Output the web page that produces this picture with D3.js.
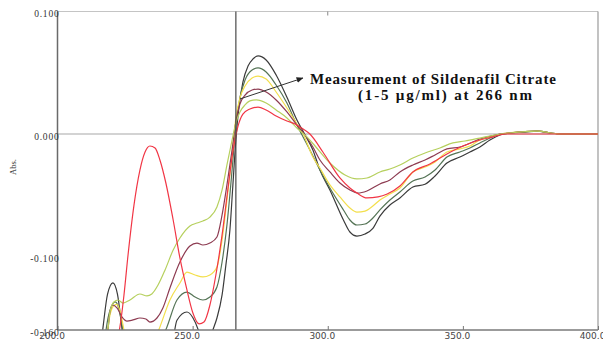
<!DOCTYPE html>
<html>
<head>
<meta charset="utf-8">
<script src="https://cdn.jsdelivr.net/npm/d3@7"></script>
<style>
  body { margin: 0; background: #fff; }
  svg { display: block; }
</style>
</head>
<body>
<div id="chart"></div>
<script>
// [wavelength nm, absorbance], one array per trace
const blackTrace = [
    [215.5, -0.185], [217, -0.155], [218.5, -0.131], [220.5, -0.1216], [222.2, -0.131], [223.8, -0.158],
    [225.2, -0.185], [233, -0.23], [242, -0.18], [244.2, -0.152], [247.9, -0.1453], [250.1, -0.150],
    [252.4, -0.162], [254.5, -0.18], [257.5, -0.16], [259, -0.1502], [260.9, -0.1314], [262.3, -0.107],
    [263.8, -0.0784], [264.9, -0.0416], [266, -0.0049], [267.1, 0.0212], [268.6, 0.0424], [270.5, 0.0555],
    [272.3, 0.0612], [274.2, 0.0637], [277.2, 0.0604], [280.9, 0.0482], [284.9, 0.030], [288.6, 0.0114],
    [291.6, -0.0008], [294.5, -0.013], [297.1, -0.0294], [300.8, -0.0457], [305.8, -0.0702], [308.2, -0.080],
    [310.8, -0.0833], [313.8, -0.0816], [316.7, -0.077], [319.3, -0.067], [323, -0.058], [326.7, -0.0522],
    [331.5, -0.0433], [336, -0.041], [339.7, -0.0343], [344.1, -0.0237], [348.9, -0.0188], [352.6, -0.0147],
    [356.3, -0.0106], [360, -0.0049], [363.7, -0.0008], [367.4, 0.0008], [373, 0.0016], [377.4, 0.0024],
    [382.2, 0.0008], [388, 0], [400, 0]
];
const greenTrace = [
    [217.2, -0.172], [218.7, -0.1502], [220.2, -0.1396], [221.3, -0.1371], [222.4, -0.1404], [223.9, -0.156],
    [225, -0.172], [230.5, -0.217], [237.9, -0.172], [240.5, -0.1575], [244.2, -0.1355], [247.9, -0.129],
    [250.9, -0.1331], [253.8, -0.1355], [256.4, -0.1331], [259, -0.1249], [260.9, -0.1045], [262.7, -0.0743],
    [264.6, -0.0294], [266, 0.0073], [267.5, 0.0294], [269.4, 0.0441], [272, 0.0522], [274.2, 0.0539],
    [277.2, 0.0506], [280.9, 0.040], [284.9, 0.0253], [288.6, 0.0073], [290.5, -0.0008], [293.4, -0.013],
    [297.1, -0.0294], [300.8, -0.0441], [305.8, -0.062], [308.2, -0.0702], [310.8, -0.0743], [313.8, -0.0735],
    [316.7, -0.0686], [319.3, -0.062], [323, -0.0539], [326.7, -0.0473], [331.5, -0.0384], [336, -0.0351],
    [339.7, -0.0294], [344.1, -0.0188], [348.9, -0.0147], [352.6, -0.0114], [356.3, -0.0073], [360, -0.0033],
    [363.7, 0], [367.4, 0.0008], [377.4, 0.0024], [385.9, 0], [400, 0]
];
const yellowTrace = [
    [217.9, -0.172], [219.4, -0.148], [220.9, -0.140], [222, -0.139], [223.1, -0.144], [224.6, -0.160],
    [225.7, -0.172], [230.5, -0.217], [235.3, -0.172], [237.9, -0.1575], [241.6, -0.1355], [245.3, -0.1216],
    [247.9, -0.1127], [250.9, -0.1151], [253.8, -0.1167], [256.4, -0.1151], [259, -0.1086], [260.9, -0.0865],
    [262.7, -0.0539], [264.6, -0.0171], [266, 0.0131], [267.5, 0.0294], [269.4, 0.0392], [272, 0.0457],
    [274.2, 0.0473], [277.2, 0.0449], [280.9, 0.0343], [284.9, 0.0212], [288.6, 0.0082], [290.9, 0],
    [294.5, -0.0188], [297.1, -0.0278], [300.8, -0.0416], [304.5, -0.0514], [308.2, -0.0604], [310.8, -0.0637],
    [313.8, -0.0629], [316.7, -0.0588], [319.3, -0.0539], [323, -0.049], [326.7, -0.0441], [331.5, -0.031],
    [336, -0.027], [339.7, -0.0229], [344.1, -0.0147], [348.9, -0.0122], [352.6, -0.0098], [356.3, -0.0049],
    [360, -0.0024], [363.7, 0], [377.4, 0.0024], [385.9, 0], [400, 0]
];
const maroonTrace = [
    [218.3, -0.172], [219.4, -0.1453], [220.5, -0.1396], [222, -0.142], [223.9, -0.1494], [225.7, -0.1527],
    [227.9, -0.1518], [230.5, -0.1502], [232.7, -0.151], [234.2, -0.1535], [236.8, -0.1502], [239, -0.142],
    [241.6, -0.1257], [245.3, -0.1045], [249, -0.0914], [251.6, -0.089], [253.8, -0.0906], [256.4, -0.089],
    [259, -0.0841], [260.9, -0.0661], [262.7, -0.0416], [264.6, -0.013], [266, 0.0098], [267.5, 0.0245],
    [269.4, 0.0318], [272, 0.0359], [274.2, 0.0367], [277.2, 0.0343], [280.9, 0.0278], [284.9, 0.018],
    [288.6, 0.0073], [291.6, -0.0008], [294.5, -0.0106], [297.1, -0.0212], [300.8, -0.031], [304.5, -0.040],
    [308.2, -0.0457], [311.2, -0.0482], [314.5, -0.0465], [319.3, -0.0408], [323, -0.0375], [326.7, -0.031],
    [331.5, -0.0253], [336, -0.0212], [339.7, -0.0171], [344.1, -0.0122], [348.9, -0.0106], [356.3, -0.0041],
    [361.9, -0.0008], [367.4, 0.0008], [377.4, 0.0024], [385.9, 0], [400, 0]
];
const limeTrace = [
    [218.3, -0.172], [219.4, -0.1453], [220.9, -0.1371], [222.4, -0.1355], [224.2, -0.138], [226.8, -0.1355],
    [230.5, -0.1306], [233.1, -0.1322], [234.9, -0.1306], [237.2, -0.1233], [239.8, -0.111], [242.8, -0.0947],
    [245.3, -0.0849], [249, -0.0751], [251.6, -0.0727], [253.8, -0.071], [256.4, -0.0678], [259, -0.0596],
    [260.9, -0.0457], [262.7, -0.0253], [264.6, -0.0049], [266, 0.009], [267.5, 0.018], [269.4, 0.0237],
    [271.2, 0.027], [273.5, 0.0278], [277.2, 0.0253], [280.9, 0.0196], [284.9, 0.0131], [288.6, 0.0049],
    [292.3, -0.0024], [295.3, -0.0098], [300.8, -0.0237], [306.4, -0.0335], [310.8, -0.0367], [314.5, -0.0359],
    [319.3, -0.031], [323, -0.0286], [326.7, -0.0253], [331.5, -0.0196], [336, -0.0155], [341.5, -0.0114],
    [346.3, -0.0073], [350.8, -0.0057], [356.3, -0.0033], [361.9, -0.0008], [367.4, 0.0008], [377.4, 0.0024],
    [385.9, 0], [400, 0]
];
const redTrace = [
    [221.6, -0.172], [223.1, -0.1575], [224.6, -0.1314], [226.1, -0.0988], [228.3, -0.058], [230.5, -0.0294],
    [232.4, -0.0147], [234.2, -0.0098], [236.1, -0.0114], [237.9, -0.0212], [240.1, -0.040], [242.8, -0.0702],
    [245.3, -0.1012], [247.9, -0.1273], [250.1, -0.1461], [252.4, -0.155], [254.2, -0.1535], [256.4, -0.1396],
    [258.6, -0.1151], [260.9, -0.0824], [263.1, -0.0441], [265, -0.013], [266.8, 0.0065], [268.6, 0.0163],
    [271.2, 0.0204], [274.2, 0.022], [277.2, 0.0196], [280.9, 0.0147], [284.9, 0.0106], [287.9, 0.0082],
    [290.9, 0.0041], [293.4, 0], [298.2, -0.0147], [304.5, -0.0359], [308.2, -0.0441], [310.8, -0.0482],
    [314.5, -0.0522], [318.6, -0.0514], [322, -0.049], [326.7, -0.0424], [331.5, -0.031], [337.8, -0.0245],
    [344.1, -0.0163], [350, -0.0098], [356.3, -0.0049], [361.1, -0.0024], [365.6, 0], [400, 0]
];

const xTicks = [200, 250, 300, 350, 400];
const yTicks = [0.1, 0, -0.1, -0.16];
const markerNm = 266;
const noteLines = ['Measurement of Sildenafil Citrate', '(1-5 \u00b5g/ml) at 266 nm'];
const noteAnchors = [[293.4, 0.0408], [311.2, 0.0278]];
const noteArrow = [[267.5, 0.0286], [290.8, 0.0457]];

const traces = [
    {data: blackTrace, color: '#3b3b3b'},
    {data: greenTrace, color: '#557456'},
    {data: yellowTrace, color: '#f3df4c'},
    {data: maroonTrace, color: '#8d3b51'},
    {data: limeTrace, color: '#b6d05e'},
    {data: redTrace, color: '#f13645'}
];

let w = 603, h = 342,
    mLeft = 57.5, mRight = 598, mTop = 11.5, mBottom = 330;

let svg = d3.select('#chart')
    .append('svg')
        .attr('width', w)
        .attr('height', h);

const x = d3.scaleLinear().domain([200, 400]).range([mLeft, mRight]);
const y = d3.scaleLinear().domain([-0.16, 0.1]).range([mBottom, mTop]);

svg.append('clipPath')
    .attr('id', 'plot-clip')
    .append('rect')
        .attr('x', mLeft)
        .attr('y', mTop)
        .attr('width', mRight - mLeft)
        .attr('height', mBottom - mTop);

// frame: light top/right, darker left/bottom
svg.append('line')
    .attr('x1', mLeft).attr('x2', mRight)
    .attr('y1', mTop).attr('y2', mTop)
    .attr('stroke', '#c4c4c4').attr('stroke-width', 1.2);
svg.append('line')
    .attr('x1', mRight).attr('x2', mRight)
    .attr('y1', mTop).attr('y2', mBottom)
    .attr('stroke', '#9a9a9a').attr('stroke-width', 1.2);
svg.append('line')
    .attr('x1', mLeft).attr('x2', mRight)
    .attr('y1', y(0)).attr('y2', y(0))
    .attr('stroke', '#a8a8a8').attr('stroke-width', 1.2);

// top axis tick at 300
svg.append('line')
    .attr('x1', x(300)).attr('x2', x(300))
    .attr('y1', mTop).attr('y2', mTop + 4)
    .attr('stroke', '#888');

let line = d3.line()
    .x(d => x(d[0]))
    .y(d => y(d[1]))
    .curve(d3.curveMonotoneX);

let plot = svg.append('g').attr('clip-path', 'url(#plot-clip)');

plot.selectAll('path.trace')
    .data(traces).enter()
    .append('path')
    .attr('class', 'trace')
    .attr('d', d => line(d.data))
    .attr('fill', 'none')
    .attr('stroke', d => d.color)
    .attr('stroke-width', 1.2);

// wavelength marker
svg.append('line')
    .attr('x1', x(markerNm)).attr('x2', x(markerNm))
    .attr('y1', mTop).attr('y2', mBottom)
    .attr('stroke', '#4a4a4a').attr('stroke-width', 1.2);

// x axis
let xAxis = svg.append('g')
    .attr('transform', `translate(0, ${mBottom})`)
    .call(d3.axisBottom(x)
        .tickValues(xTicks)
        .tickSize(-4)
        .tickPadding(3)
        .tickFormat(d => d.toFixed(1)));
xAxis.select('.domain').remove();
xAxis.selectAll('line').attr('stroke', '#777');
xAxis.selectAll('text')
    .attr('dx', -6)
    .attr('fill', '#444')
    .style('font-family', '"DejaVu Sans", sans-serif')
    .style('font-size', '9px');

svg.append('line')
    .attr('x1', mLeft).attr('x2', mRight)
    .attr('y1', mBottom).attr('y2', mBottom)
    .attr('stroke', '#7a7a7a').attr('stroke-width', 1.5);
svg.append('line')
    .attr('x1', mLeft).attr('x2', mLeft)
    .attr('y1', mTop).attr('y2', mBottom)
    .attr('stroke', '#6a6a6a').attr('stroke-width', 1.5);

// y axis labels
let yAxis = svg.append('g')
    .attr('transform', `translate(${mLeft + 2}, 0)`)
    .call(d3.axisLeft(y)
        .tickValues(yTicks)
        .tickSize(0)
        .tickPadding(0)
        .tickFormat(d => d.toFixed(3)));
yAxis.select('.domain').remove();
yAxis.selectAll('text')
    .attr('y', 2)
    .attr('fill', '#333')
    .style('font-family', '"Liberation Serif", "Times New Roman", serif')
    .style('font-size', '9.5px')
    .style('letter-spacing', '0.8px');

svg.append('text')
    .attr('transform', 'translate(16, 167) rotate(-90)')
    .attr('text-anchor', 'middle')
    .attr('fill', '#333')
    .style('font-family', '"Liberation Serif", "Times New Roman", serif')
    .style('font-size', '8.5px')
    .text('Abs.');

// annotation
svg.append('defs').append('marker')
    .attr('id', 'head')
    .attr('viewBox', '0 0 10 10')
    .attr('refX', 9).attr('refY', 5)
    .attr('markerWidth', 7).attr('markerHeight', 7)
    .attr('orient', 'auto')
    .append('path')
        .attr('d', 'M0,1 L10,5 L0,9 Z')
        .attr('fill', '#222');

svg.append('line')
    .attr('x1', x(noteArrow[0][0])).attr('y1', y(noteArrow[0][1]))
    .attr('x2', x(noteArrow[1][0])).attr('y2', y(noteArrow[1][1]))
    .attr('stroke', '#333').attr('stroke-width', 1)
    .attr('marker-end', 'url(#head)');

let noteWidths = [246, 174];
svg.selectAll('text.note')
    .data(noteLines).enter()
    .append('text')
    .attr('class', 'note')
    .attr('x', (d, i) => x(noteAnchors[i][0]))
    .attr('y', (d, i) => y(noteAnchors[i][1]))
    .attr('textLength', (d, i) => noteWidths[i])
    .attr('lengthAdjust', 'spacing')
    .attr('fill', '#111')
    .style('font-family', '"Liberation Serif", "Times New Roman", serif')
    .style('font-weight', 'bold')
    .style('font-size', '15px')
    .text(d => d);
</script>
</body>
</html>
